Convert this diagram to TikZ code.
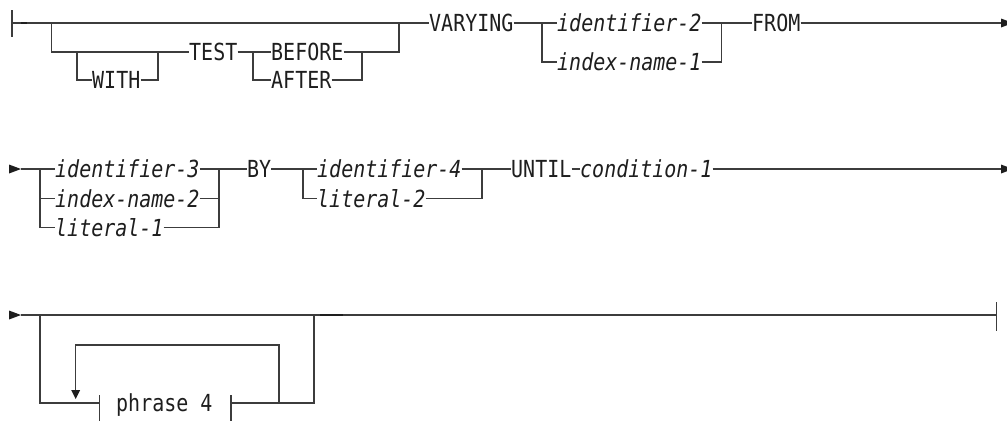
\documentclass[tikz,border=0pt]{standalone}
\usepackage{fontspec}
\setmonofont[FakeStretch=0.85,ItalicFont={DejaVu Sans Mono Oblique}]{DejaVu Sans Mono}
\definecolor{ln}{HTML}{3C3C3C}
\definecolor{tx}{HTML}{1E1E1E}
\tikzset{
  kw/.style={anchor=west, inner sep=0pt, text height=17pt, text depth=0pt,
    font=\fontsize{23.5}{25}\selectfont\ttfamily, text=tx},
  var/.style={kw, font=\fontsize{23.5}{25}\selectfont\ttfamily\itshape},
  rail/.style={draw=ln, line width=1.2pt},
  heavy/.style={draw=tx, line width=2pt},
  tri/.style={fill=tx, draw=none},
}
\begin{document}
\begin{tikzpicture}[x=1pt,y=-1pt]
\clip (0,0) rectangle (1007,421);
\fill[white] (0,0) rectangle (1007,421);
% ---------------- row 1 ----------------
\coordinate (r1s) at (12,23);
\coordinate (j1a) at (51.7,23);
\coordinate (j1c) at (77,52);
\coordinate (j1f) at (158,52);
\coordinate (j1g) at (253,52);
\coordinate (j1i) at (362,52);
\coordinate (j1l) at (399,23);
\coordinate (j1m) at (542,23);
\coordinate (j1n) at (721.7,23);
\coordinate (a1) at (1001,23);
\node[kw] (with) at (92,80) {WITH};
\node[kw] (test) at (189,52) {TEST};
\node[kw] (before) at (271,52) {BEFORE};
\node[kw] (after) at (271,80) {AFTER};
\node[kw] (varying) at (429,23) {VARYING};
\node[var] (id2) at (557,23) {identifier-2};
\node[var] (inm1) at (557,62) {index-name-1};
\node[kw] (from) at (752,23) {FROM};
\draw[rail] (12,10) -- (12,37);
\draw[rail] (r1s) -- (j1l) -- (varying.west);
\draw[rail] (j1a) |- (test.west);
\draw[rail] (j1c) |- (with.west);
\draw[rail] (with.east) -| (j1f);
\draw[rail] (test.east) -- (before.west);
\draw[rail] (j1g) |- (after.west);
\draw[rail] (before.east) -| (j1l);
\draw[rail] (after.east) -| (j1i);
\draw[rail] (varying.east) -- (id2.west);
\draw[rail] (j1m) |- (inm1.west);
\draw[rail] (id2.east) -- (from.west);
\draw[rail] (inm1.east) -| (j1n);
\draw[rail] (from.east) -- (a1);
\fill[tri] (1001,18.5) -- (1013,23) -- (1001,27.5) -- cycle;
\draw[heavy] (21,23) -- (27,23);
% ---------------- row 2 ----------------
\fill[tri] (9,164.5) -- (21,169) -- (9,173.5) -- cycle;
\coordinate (r2s) at (21,169);
\coordinate (j2a) at (40,169);
\coordinate (j2b) at (219,169);
\coordinate (j2c) at (303,169);
\coordinate (j2d) at (482,169);
\coordinate (a2) at (1001,169);
\node[var] (id3) at (55,169) {identifier-3};
\node[var] (inm2) at (55,198.5) {index-name-2};
\node[var] (lit1) at (55,227.5) {literal-1};
\node[kw] (by) at (247,169) {BY};
\node[var] (id4) at (317,169) {identifier-4};
\node[var] (lit2) at (317,198.5) {literal-2};
\node[kw] (until) at (511,169) {UNTIL};
\node[var] (cond) at (580,169) {condition-1};
\draw[rail] (r2s) -- (id3.west);
\draw[rail] (j2a) |- (lit1.west);
\draw[rail] (j2a |- inm2.west) -- (inm2.west);
\draw[rail] (id3.east) -- (by.west);
\draw[rail] (inm2.east) -| (j2b);
\draw[rail] (lit1.east) -| (j2b);
\draw[rail] (by.east) -- (id4.west);
\draw[rail] (j2c) |- (lit2.west);
\draw[rail] (id4.east) -- (until.west);
\draw[rail] (lit2.east) -| (j2d);
\draw[rail] (until.east) -- (cond.west);
\draw[rail] (cond.east) -- (a2);
\fill[tri] (1001,164.5) -- (1013,169) -- (1001,173.5) -- cycle;
% ---------------- row 3 ----------------
\fill[tri] (9,310.5) -- (21,315) -- (9,319.5) -- cycle;
\coordinate (r3s) at (21,315);
\coordinate (j3a) at (40,315);
\coordinate (j3b) at (314,315);
\coordinate (r3e) at (996.7,315);
\coordinate (pl) at (99.3,403);
\coordinate (pr) at (231,403);
\coordinate (lpr) at (279,403);
\coordinate (lpt) at (75.7,345);
\coordinate (lpl) at (75.7,391);
\node[kw] (ph) at (116,403) {phrase 4};
\draw[rail] (r3s) -- (r3e);
\draw[rail] (996.7,302) -- (996.7,331);
\draw[rail] (j3a) |- (pl);
\draw[rail] (99.3,395) -- (99.3,421);
\draw[rail] (231,395) -- (231,421);
\draw[rail] (pr) -| (j3b);
\draw[rail] (lpr) |- (lpt) -- (lpl);
\fill[tri] (71.2,390) -- (80.2,390) -- (75.7,399) -- cycle;
\draw[heavy] (320,315) -- (343,315);
\end{tikzpicture}
\end{document}
